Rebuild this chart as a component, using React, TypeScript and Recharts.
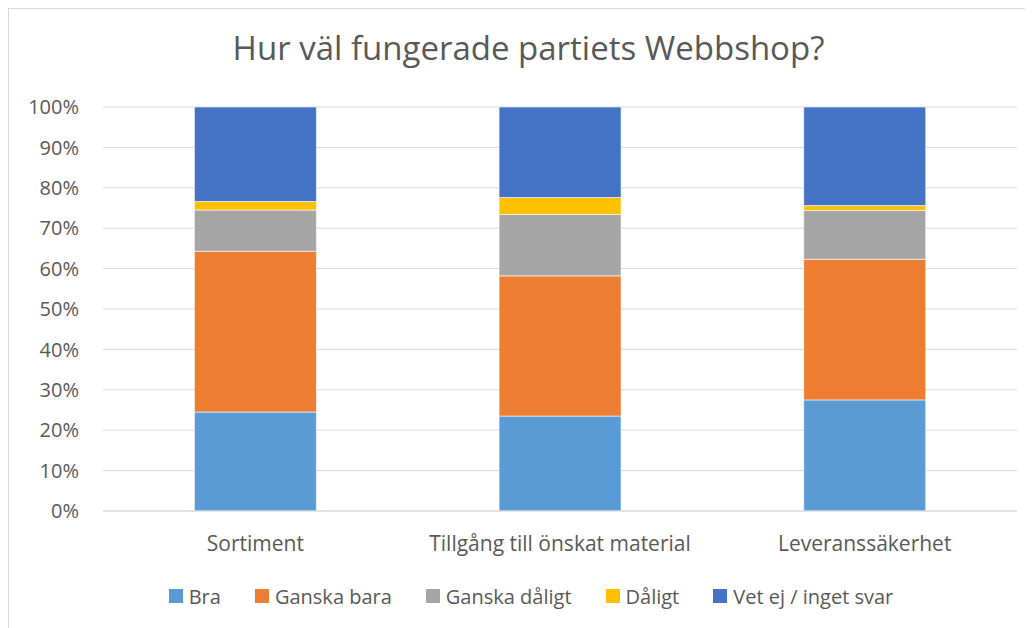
import { BarChart, Bar, XAxis, YAxis, CartesianGrid, Legend } from "recharts";

const categories = ["Sortiment", "Tillgång till önskat material", "Leveranssäkerhet"];
const bra = [24.5, 23.5, 27.5];
const ganskaBara = [39.8, 34.7, 34.8];
const ganskaDaligt = [10.2, 15.2, 12.1];
const daligt = [2.1, 4.2, 1.2];
const vetEj = [23.4, 22.4, 24.4];
const yTicks = [0, 10, 20, 30, 40, 50, 60, 70, 80, 90, 100];

const series = [
  { key: "bra", name: "Bra", color: "#5B9BD5", values: bra },
  { key: "ganskaBara", name: "Ganska bara", color: "#ED7D31", values: ganskaBara },
  { key: "ganskaDaligt", name: "Ganska dåligt", color: "#A5A5A5", values: ganskaDaligt },
  { key: "daligt", name: "Dåligt", color: "#FFC000", values: daligt },
  { key: "vetEj", name: "Vet ej / inget svar", color: "#4472C4", values: vetEj },
];

const data = categories.map((name, i) => {
  const row: any = { name };
  series.forEach((s) => (row[s.key] = s.values[i]));
  return row;
});

const FONT = "'Open Sans', sans-serif";
const TEXT = "#595959";

const LegendContent = () => (
  <div
    style={{
      display: "flex",
      justifyContent: "center",
      alignItems: "center",
      height: 30,
      gap: 34,
      fontFamily: FONT,
      fontSize: 20,
      color: TEXT,
      paddingLeft: 36,
    }}
  >
    {series.map((s) => (
      <div key={s.key} style={{ display: "flex", alignItems: "center" }}>
        <span style={{ width: 14, height: 14, background: s.color, marginRight: 6 }} />
        <span>{s.name}</span>
      </div>
    ))}
  </div>
);

export default function App() {
  return (
    <div
      style={{
        position: "relative",
        width: 1025,
        height: 620,
        borderLeft: "1px solid #D9D9D9",
        borderTop: "1px solid #D9D9D9",
        boxSizing: "border-box",
        fontFamily: FONT,
      }}
    >
      <div
        style={{
          position: "absolute",
          top: 17,
          left: 0,
          width: 1039,
          textAlign: "center",
          fontSize: 33,
          color: TEXT,
          lineHeight: "44px",
        }}
      >
        Hur väl fungerade partiets Webbshop?
      </div>
      <BarChart
        width={1024}
        height={619}
        data={data}
        margin={{ top: 98, right: 16, bottom: 17, left: 0 }}
        barCategoryGap="30%"
      >
        <CartesianGrid vertical={false} stroke="#D9D9D9" strokeWidth={1} />
        <XAxis
          dataKey="name"
          tickLine={false}
          axisLine={{ stroke: "#D9D9D9" }}
          tickSize={0}
          tickMargin={25}
          height={70}
          tick={{ fill: TEXT, fontSize: 21, fontFamily: FONT }}
        />
        <YAxis
          domain={[0, 100]}
          ticks={yTicks}
          tickFormatter={(v) => `${v}%`}
          tickLine={false}
          axisLine={false}
          tickSize={0}
          tickMargin={24}
          width={94}
          tick={{ fill: TEXT, fontSize: 20, fontFamily: FONT }}
        />
        <Legend verticalAlign="bottom" height={30} content={<LegendContent />} />
        {series.map((s) => (
          <Bar
            key={s.key}
            dataKey={s.key}
            name={s.name}
            stackId="a"
            fill={s.color}
            stroke="#FFFFFF"
            strokeWidth={0.6}
            isAnimationActive={false}
          />
        ))}
      </BarChart>
    </div>
  );
}
